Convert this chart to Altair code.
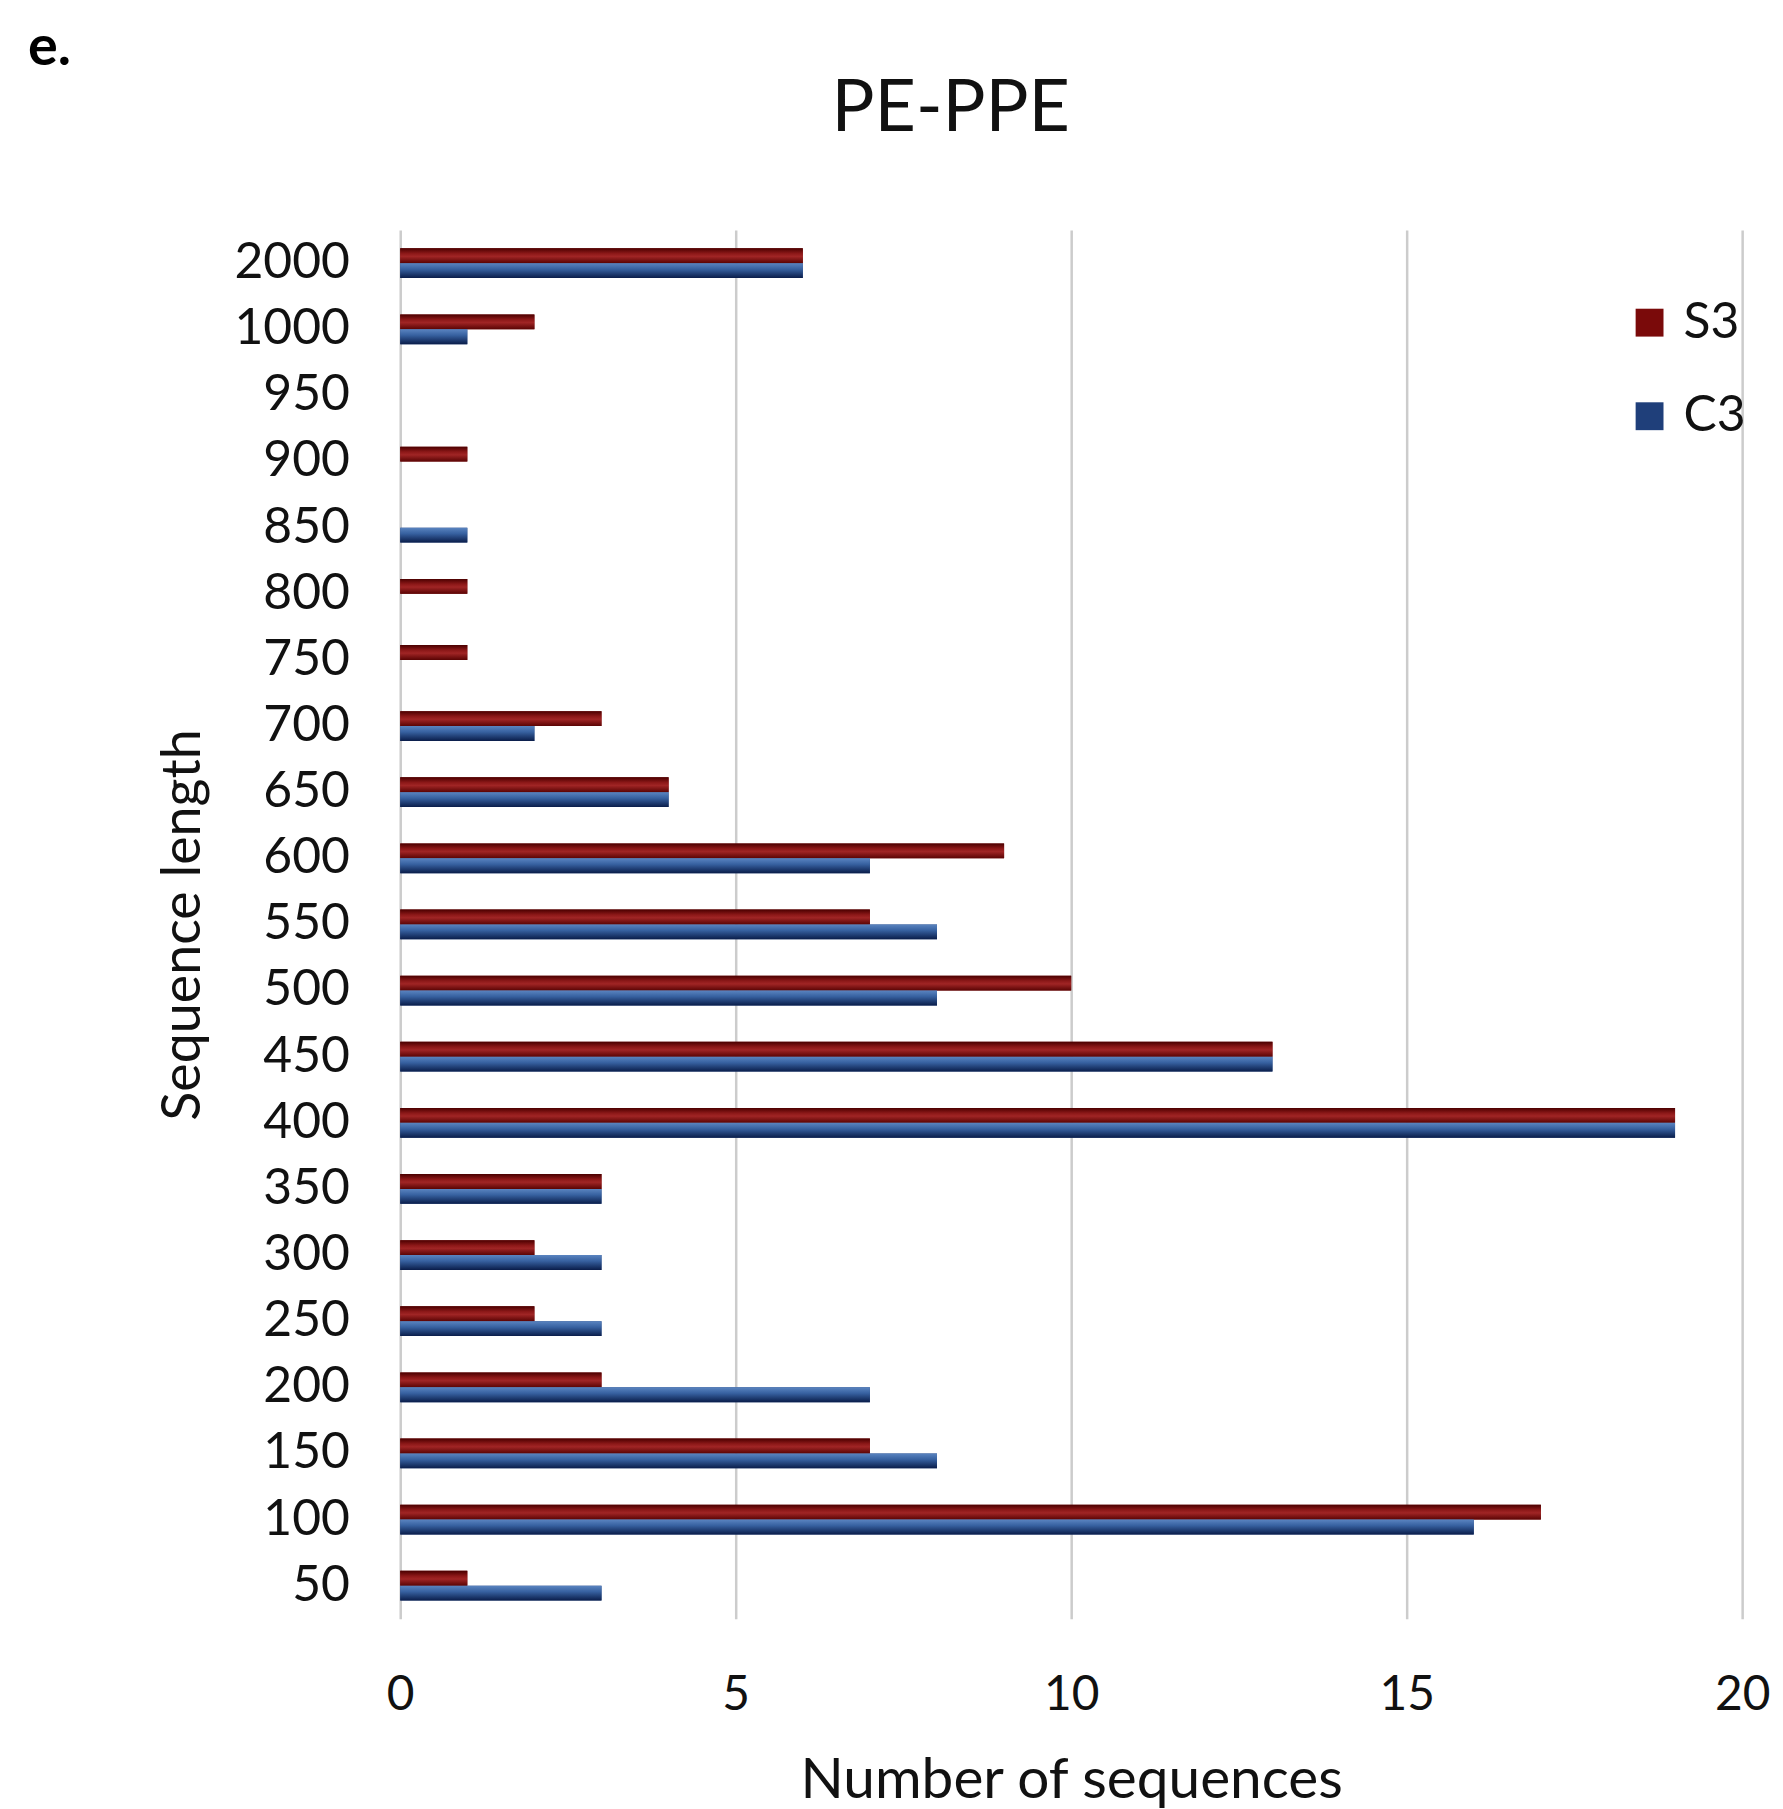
import altair as alt
import pandas as pd

# ---- data ----
lengths = ["2000", "1000", "950", "900", "850", "800", "750", "700", "650", "600",
           "550", "500", "450", "400", "350", "300", "250", "200", "150", "100", "50"]
s3_counts = [6, 2, 0, 1, 0, 1, 1, 3, 4, 9, 7, 10, 13, 19, 3, 2, 2, 3, 7, 17, 1]
c3_counts = [6, 1, 0, 0, 1, 0, 0, 2, 4, 7, 8, 8, 13, 19, 3, 3, 3, 7, 8, 16, 3]
series_names = ["S3", "C3"]
x_ticks = [0, 5, 10, 15, 20]
title_text = "PE-PPE"
panel_tag = "e."
x_title = "Number of sequences"
y_title = "Sequence length"

rows = []
for L, a, b in zip(lengths, s3_counts, c3_counts):
    rows.append({"length": L, "series": "S3", "count": a})
    rows.append({"length": L, "series": "C3", "count": b})
df = pd.DataFrame(rows)

FONT = "Lato"
RED = "#7a0a0a"
BLUE = "#1f3f7a"

grad_red = alt.LinearGradient(
    gradient="linear", x1=0, x2=0, y1=0, y2=1,
    stops=[alt.GradientStop(offset=0, color="#4a0000"),
           alt.GradientStop(offset=0.35, color="#8c1818"),
           alt.GradientStop(offset=0.55, color="#a02525"),
           alt.GradientStop(offset=1, color="#5a0404")])
grad_blue = alt.LinearGradient(
    gradient="linear", x1=0, x2=0, y1=0, y2=1,
    stops=[alt.GradientStop(offset=0, color="#5a84c0"),
           alt.GradientStop(offset=0.4, color="#3761a0"),
           alt.GradientStop(offset=1, color="#0a1d4a")])

x_enc = alt.X(
    "count:Q",
    scale=alt.Scale(domain=[0, 20], nice=False, zero=True),
    axis=alt.Axis(values=x_ticks, format="d", grid=True, gridColor="#cccccc",
                  gridWidth=2.5, domain=False, ticks=False, labelFlush=False,
                  labelFont=FONT, labelFontSize=48, labelColor="#111111",
                  labelPadding=53, title=x_title, titleFont=FONT, titleFontSize=57,
                  titleFontWeight="normal", titleColor="#111111", titlePadding=34),
)
y_enc = alt.Y(
    "length:N",
    sort=lengths,
    scale=alt.Scale(domain=lengths, paddingInner=0.55, paddingOuter=0.275),
    axis=alt.Axis(grid=False, domain=False, ticks=False, labelFont=FONT,
                  labelFontSize=50, labelColor="#111111", labelPadding=51,
                  title=y_title, titleFont=FONT, titleFontSize=54,
                  titleFontWeight="normal", titleColor="#111111", titlePadding=24),
)
yoff = alt.YOffset("series:N", scale=alt.Scale(domain=series_names))

base = alt.Chart(df).mark_bar().encode(
    x=x_enc,
    y=y_enc,
    yOffset=yoff,
    color=alt.Color(
        "series:N",
        scale=alt.Scale(domain=series_names, range=[RED, BLUE]),
        legend=alt.Legend(orient="none", legendX=1230, legendY=68, title=None,
                          symbolType="square", symbolSize=784, symbolStrokeWidth=0,
                          symbolOpacity=1, labelFont=FONT, labelFontSize=50,
                          labelColor="#111111", labelOffset=9, rowPadding=44,
                          padding=0),
    ),
)

over_red = alt.Chart(df).transform_filter(alt.datum.series == "S3").mark_bar(
    fill=grad_red).encode(x="count:Q", y=alt.Y("length:N", sort=lengths), yOffset=yoff)
over_blue = alt.Chart(df).transform_filter(alt.datum.series == "C3").mark_bar(
    fill=grad_blue).encode(x="count:Q", y=alt.Y("length:N", sort=lengths), yOffset=yoff)

title_layer = alt.Chart(pd.DataFrame({"t": [title_text]})).mark_text(
    font=FONT, fontSize=72, align="center", baseline="middle", color="#111111"
).encode(x=alt.value(553), y=alt.value(-122), text="t:N")

tag_layer = alt.Chart(pd.DataFrame({"t": [panel_tag]})).mark_text(
    font=FONT, fontSize=56, fontWeight="bold", align="left", baseline="alphabetic",
    color="#000000"
).encode(x=alt.value(-374), y=alt.value(-166), text="t:N")

chart = alt.layer(base, over_red, over_blue, title_layer, tag_layer).properties(
    width=1348,
    height=1395,
    padding={"left": 394, "top": 219, "right": 33, "bottom": 187},
    autosize=alt.AutoSizeParams(type="none"),
    background="white",
).configure_view(stroke=None)

chart.save("out.html", embed_options={"renderer": "svg", "actions": False})
